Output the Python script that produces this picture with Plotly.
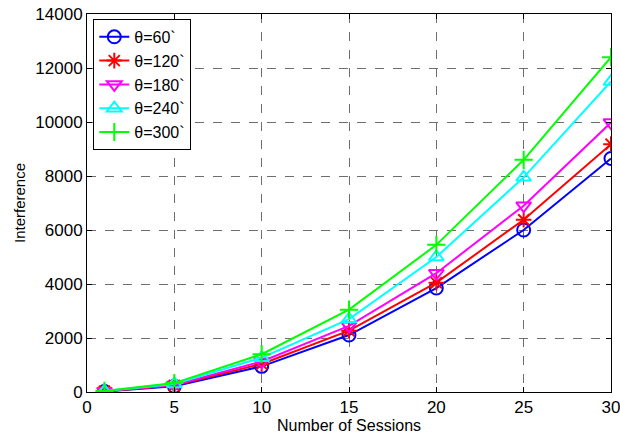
import plotly.graph_objects as go

sessions = [1, 5, 10, 15, 20, 25, 30]
theta_60 = [20, 210, 950, 2110, 3850, 6000, 8650]
theta_120 = [25, 240, 1040, 2270, 4050, 6380, 9180]
theta_180 = [30, 260, 1130, 2450, 4400, 6900, 9980]
theta_240 = [35, 300, 1270, 2700, 5000, 7950, 11500]
theta_300 = [40, 330, 1400, 3050, 5450, 8600, 12400]

series = [
    ("θ=60`", theta_60, "#0000FF", "circle-open"),
    ("θ=120`", theta_120, "#FF0000", "asterisk-open"),
    ("θ=180`", theta_180, "#FF00FF", "triangle-down-open"),
    ("θ=240`", theta_240, "#00FFFF", "triangle-up-open"),
    ("θ=300`", theta_300, "#00FF00", "cross-thin-open"),
]

font_family = "Liberation Sans, Arial, Helvetica, sans-serif"

fig = go.Figure()
for name, vals, color, sym in series:
    fig.add_trace(go.Scatter(
        x=sessions, y=vals, name=name, mode="lines+markers",
        line=dict(color=color, width=2),
        marker=dict(symbol=sym, size=13, color=color,
                    line=dict(color=color, width=2)),
    ))

axis_common = dict(
    showline=True, linecolor="black", linewidth=1, mirror="allticks",
    ticks="inside", ticklen=5, tickcolor="black",
    showgrid=True, gridcolor="#6e6e6e", griddash="dash", gridwidth=1,
    zeroline=False, automargin=False, tickformat="d",
    ticklabeloverflow="allow",
    tickfont=dict(family=font_family, size=17, color="black"),
)

fig.update_xaxes(range=[0, 30], dtick=5, tick0=0,
                 title=dict(text="Number of Sessions", standoff=0,
                            font=dict(family=font_family, size=16, color="black")),
                 **axis_common)
fig.update_yaxes(range=[0, 14000], dtick=2000, tick0=0,
                 title=dict(text="Interference", standoff=6,
                            font=dict(family=font_family, size=15, color="black")),
                 **axis_common)

fig.update_layout(
    width=620, height=436,
    margin=dict(l=87, r=9, t=14, b=44),
    paper_bgcolor="white", plot_bgcolor="white",
    font=dict(family=font_family, color="black"),
    legend=dict(
        x=0.012, y=0.987, xanchor="left", yanchor="top",
        bgcolor="white", bordercolor="black", borderwidth=1,
        font=dict(family=font_family, size=16, color="black"),
        itemwidth=30, tracegroupgap=0,
    ),
    showlegend=True,
)

# remove the browser's default 8px body margin so the figure sits at the page's top-left
fig.write_html("out.html",
               config={"displayModeBar": False},
               post_script="document.body.style.margin='0';document.body.style.overflow='hidden';")
